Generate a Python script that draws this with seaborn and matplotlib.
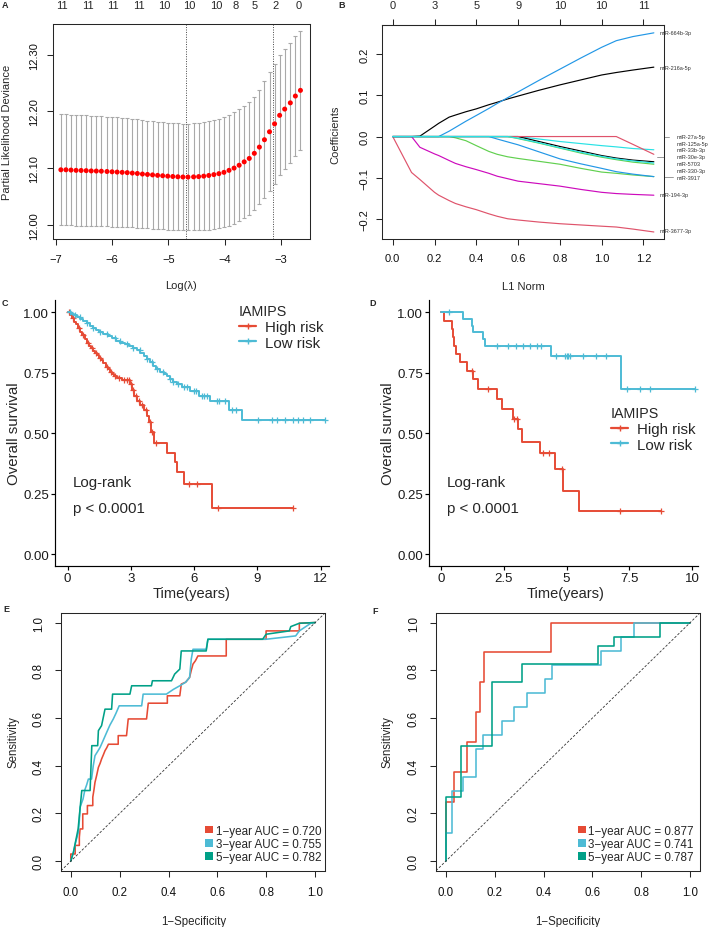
import numpy as np
import pandas as pd
import matplotlib
matplotlib.use("Agg")
import matplotlib.pyplot as plt
import matplotlib.transforms as mtrans
from matplotlib.lines import Line2D
from matplotlib.patches import Patch
import seaborn as sns

# ---------------------------------------------------------------- data
# A: LASSO cross-validation curve
a_log_lambda = [-6.91, -6.82, -6.73, -6.64, -6.55, -6.46, -6.37, -6.28, -6.19, -6.09,
                -6.00, -5.91, -5.82, -5.73, -5.64, -5.55, -5.46, -5.37, -5.28, -5.19,
                -5.10, -5.01, -4.92, -4.83, -4.74, -4.65, -4.55, -4.46, -4.37, -4.28,
                -4.19, -4.10, -4.01, -3.92, -3.83, -3.74, -3.65, -3.56, -3.47, -3.38,
                -3.29, -3.20, -3.11, -3.02, -2.93, -2.83, -2.74, -2.65]
a_deviance = [12.097, 12.097, 12.0965, 12.096, 12.0958, 12.0955, 12.095, 12.0948, 12.0945, 12.094,
              12.0935, 12.093, 12.0925, 12.092, 12.0912, 12.0905, 12.0895, 12.0888, 12.088, 12.0872,
              12.0865, 12.0858, 12.0852, 12.0847, 12.0843, 12.0842, 12.0845, 12.085, 12.0858, 12.087,
              12.0885, 12.0902, 12.0925, 12.096, 12.100, 12.105, 12.111, 12.117, 12.126, 12.137,
              12.150, 12.164, 12.178, 12.193, 12.204, 12.215, 12.227, 12.237]
a_sd = [0.0975, 0.0975, 0.0975, 0.0975, 0.0974, 0.0973, 0.0972, 0.0971, 0.097, 0.0968,
        0.0966, 0.0964, 0.0962, 0.096, 0.0958, 0.0955, 0.0953, 0.095, 0.0948, 0.0946,
        0.0944, 0.0942, 0.094, 0.094, 0.094, 0.094, 0.0942, 0.0945, 0.095, 0.0955,
        0.096, 0.0965, 0.097, 0.0975, 0.098, 0.0985, 0.099, 0.0995, 0.1, 0.101,
        0.103, 0.105, 0.106, 0.106, 0.106, 0.1055, 0.105, 0.105]
a_lambda_min = -4.68
a_lambda_1se = -3.13
a_top_pos = [-6.90, -6.43, -5.99, -5.53, -5.08, -4.62, -4.15, -3.80, -3.46, -3.09, -2.69]
a_top_lab = ["11", "11", "11", "11", "10", "10", "10", "8", "5", "2", "0"]

# B: coefficient paths against L1 norm
b_norm = [0, 0.09, 0.13, 0.2, 0.22, 0.27, 0.3, 0.35, 0.4, 0.46, 0.5, 0.55, 0.6, 0.7, 0.8, 0.9, 1.0, 1.07, 1.15, 1.25]
b_paths = [
    [0, 0, 0.001, 0.025, 0.032, 0.047, 0.052, 0.060, 0.067, 0.077, 0.083, 0.091, 0.098, 0.112, 0.125, 0.137, 0.149, 0.155, 0.161, 0.168],
    [0, -0.087, -0.104, -0.135, -0.142, -0.155, -0.162, -0.170, -0.177, -0.187, -0.193, -0.199, -0.202, -0.207, -0.211, -0.214, -0.217, -0.219, -0.224, -0.231],
    [0, 0, 0, 0, 0, 0, -0.003, -0.010, -0.022, -0.036, -0.043, -0.049, -0.053, -0.060, -0.067, -0.077, -0.086, -0.089, -0.093, -0.097],
    [0, 0, 0, 0, 0, 0.013, 0.022, 0.037, 0.051, 0.068, 0.080, 0.094, 0.108, 0.136, 0.163, 0.190, 0.216, 0.232, 0.242, 0.251],
    [0, 0, 0, 0, 0, 0, 0, 0, 0, 0, 0, 0, 0, -0.006, -0.012, -0.017, -0.022, -0.025, -0.029, -0.032],
    [0, 0, -0.026, -0.042, -0.046, -0.058, -0.065, -0.073, -0.080, -0.089, -0.096, -0.102, -0.108, -0.114, -0.120, -0.128, -0.135, -0.138, -0.140, -0.142],
    [0, 0, 0, 0, 0, 0, 0, 0, 0, 0, 0, 0, 0, -0.012, -0.024, -0.035, -0.046, -0.052, -0.057, -0.061],
    [0, 0, 0, 0, 0, 0, 0, 0, 0, 0, 0, 0, 0, 0, 0, 0, 0, 0, -0.019, -0.043],
    [0, 0, 0, 0, 0, 0, 0, 0, 0, 0, 0, 0, -0.005, -0.016, -0.028, -0.040, -0.050, -0.056, -0.062, -0.067],
    [0, 0, 0, 0, 0, 0, 0, 0, 0, 0, -0.006, -0.013, -0.020, -0.037, -0.054, -0.066, -0.077, -0.085, -0.091, -0.097],
    [0, 0, 0, 0, 0, 0, 0, 0, 0, 0, 0, 0, -0.004, -0.015, -0.027, -0.038, -0.048, -0.054, -0.059, -0.064],
]
b_top_lab = ["0", "3", "5", "9", "10", "10", "11"]
b_outer_labels = ["miR-664b-3p", "miR-216a-5p", "miR-194-3p", "miR-3677-3p"]
b_outer_y = [0.253, 0.168, -0.140, -0.2275]
b_cluster_labels = ["miR-27a-5p", "miR-125a-5p", "miR-33b-3p", "miR-30e-3p", "miR-5703", "miR-330-3p", "miR-3917"]
b_cluster_y = [0.0, -0.016, -0.0324, -0.049, -0.065, -0.081, -0.098]

# C: Kaplan-Meier, training cohort
c_high_time = [0.1, 0.2, 0.3, 0.4, 0.5, 0.6, 0.7, 0.8, 0.9, 1.0, 1.1, 1.2, 1.3, 1.4, 1.5, 1.6, 1.7, 1.8, 1.9, 2.0,
               2.1, 2.2, 2.35, 2.6, 2.95, 3.05, 3.15, 3.3, 3.45, 3.6, 3.75, 3.85, 3.95, 4.1, 4.7, 5.1, 5.18, 5.52, 6.83]
c_high_surv = [0.99, 0.975, 0.96, 0.95, 0.935, 0.92, 0.905, 0.89, 0.875, 0.862, 0.852, 0.842, 0.832, 0.822, 0.812,
               0.802, 0.79, 0.775, 0.765, 0.755, 0.745, 0.735, 0.73, 0.72, 0.705, 0.68, 0.655, 0.635, 0.615, 0.595,
               0.57, 0.545, 0.505, 0.459, 0.417, 0.379, 0.338, 0.288, 0.189]
c_high_cens = [0.05, 0.25, 0.55, 0.75, 0.95, 1.15, 1.35, 1.55, 1.85, 2.05, 2.25, 2.45, 2.65, 2.8, 2.9, 3.0, 3.1,
               3.25, 3.4, 3.55, 3.7, 3.9, 4.0, 4.2, 5.77, 6.15, 7.15, 10.67]
c_low_time = [0.15, 0.3, 0.45, 0.6, 0.75, 0.9, 1.05, 1.2, 1.35, 1.5, 1.7, 1.9, 2.1, 2.3, 2.5, 2.7, 2.9, 3.1, 3.3,
              3.45, 3.6, 3.75, 3.9, 4.05, 4.2, 4.4, 4.55, 4.7, 4.85, 5.0, 5.17, 5.4, 5.8, 6.25, 6.75, 7.65, 8.25]
c_low_surv = [0.995, 0.988, 0.98, 0.972, 0.963, 0.955, 0.945, 0.935, 0.925, 0.917, 0.91, 0.903, 0.895, 0.883,
              0.875, 0.867, 0.86, 0.853, 0.845, 0.833, 0.821, 0.807, 0.793, 0.78, 0.766, 0.755, 0.745, 0.735,
              0.724, 0.713, 0.703, 0.69, 0.676, 0.655, 0.634, 0.597, 0.553]
c_low_cens = [0.11, 0.35, 0.58, 0.9, 1.22, 1.53, 1.85, 2.25, 2.48, 2.8, 3.11, 3.43, 3.75, 3.98, 4.22, 4.54, 4.85,
              5.01, 5.25, 5.5, 5.64, 6.0, 6.1, 6.35, 6.47, 6.6, 7.07, 7.2, 7.45, 7.8, 8.0, 9.04, 9.68, 9.94,
              10.31, 10.7, 10.94, 11.18, 11.49, 12.2]

# D: Kaplan-Meier, validation cohort
d_high_time = [0.13, 0.42, 0.49, 0.53, 0.6, 0.76, 1.02, 1.26, 1.46, 2.21, 2.41, 2.88, 3.08, 3.21, 3.94, 4.54, 4.87, 5.5]
d_high_surv = [0.966, 0.931, 0.897, 0.862, 0.828, 0.793, 0.759, 0.724, 0.683, 0.641, 0.6, 0.559, 0.517, 0.465,
               0.418, 0.352, 0.262, 0.177]
d_high_cens = [1.24, 1.88, 2.92, 3.04, 4.07, 4.3, 4.83, 7.12, 8.78]
d_low_time = [0.86, 1.22, 1.27, 1.68, 1.75, 4.36, 7.15]
d_low_surv = [0.972, 0.944, 0.917, 0.889, 0.862, 0.821, 0.684]
d_low_cens = [0.33, 2.21, 2.68, 3.0, 3.28, 3.54, 3.81, 4.0, 4.58, 4.93, 5.0, 5.07, 5.13, 5.66, 6.17, 6.56,
              7.39, 7.92, 8.32, 10.1]

km_groups = ["High risk", "Low risk"]

# E: time-dependent ROC, training cohort
e_fpr_1 = [0, 0, 0.018, 0.018, 0.035, 0.035, 0.038, 0.049, 0.049, 0.068, 0.068, 0.09, 0.09, 0.095, 0.099, 0.106,
           0.113, 0.12, 0.126, 0.133, 0.14, 0.147, 0.154, 0.194, 0.194, 0.228, 0.235, 0.31, 0.317, 0.395, 0.395,
           0.446, 0.452, 0.47, 0.486, 0.493, 0.5, 0.51, 0.52, 0.636, 0.636, 0.799, 0.799, 0.935, 0.935, 1.0]
e_tpr_1 = [0, 0.03, 0.03, 0.066, 0.066, 0.10, 0.135, 0.135, 0.198, 0.198, 0.233, 0.233, 0.268, 0.3, 0.33, 0.36,
           0.393, 0.41, 0.428, 0.445, 0.463, 0.475, 0.49, 0.49, 0.526, 0.526, 0.596, 0.596, 0.662, 0.662, 0.693,
           0.693, 0.742, 0.75, 0.77, 0.8, 0.826, 0.84, 0.86, 0.86, 0.93, 0.93, 0.965, 0.965, 0.997, 1.0]
e_fpr_3 = [0, 0.011, 0.02, 0.031, 0.035, 0.038, 0.05, 0.058, 0.065, 0.072, 0.085, 0.092, 0.099, 0.11, 0.12, 0.13,
           0.147, 0.16, 0.174, 0.185, 0.198, 0.29, 0.296, 0.391, 0.42, 0.446, 0.47, 0.486, 0.493, 0.5, 0.554,
           0.561, 0.799, 0.92, 0.935, 0.982, 1.0]
e_tpr_3 = [0, 0.038, 0.08, 0.12, 0.17, 0.226, 0.26, 0.3, 0.32, 0.344, 0.344, 0.4, 0.442, 0.46, 0.477, 0.5, 0.54,
           0.57, 0.596, 0.62, 0.651, 0.651, 0.7, 0.7, 0.72, 0.735, 0.75, 0.77, 0.847, 0.888, 0.888, 0.93, 0.93,
           0.944, 0.965, 0.997, 1.0]
e_fpr_5 = [0, 0.011, 0.03, 0.045, 0.079, 0.086, 0.11, 0.113, 0.126, 0.14, 0.167, 0.171, 0.242, 0.249, 0.33, 0.334,
           0.412, 0.425, 0.446, 0.452, 0.554, 0.561, 0.785, 0.799, 0.894, 0.9, 0.935, 1.0]
e_tpr_5 = [0, 0.038, 0.135, 0.296, 0.296, 0.484, 0.484, 0.547, 0.568, 0.637, 0.637, 0.7, 0.7, 0.735, 0.735, 0.756,
           0.756, 0.784, 0.805, 0.881, 0.881, 0.93, 0.93, 0.951, 0.965, 0.983, 0.997, 1.0]
e_auc_labels = ["1\u2212year AUC = 0.720", "3\u2212year AUC = 0.755", "5\u2212year AUC = 0.782"]

# F: time-dependent ROC, validation cohort
f_fpr_1 = [0, 0, 0.035, 0.035, 0.086, 0.086, 0.124, 0.124, 0.14, 0.14, 0.158, 0.158, 0.429, 0.429, 1.0]
f_tpr_1 = [0, 0.25, 0.25, 0.375, 0.375, 0.5, 0.5, 0.625, 0.625, 0.75, 0.75, 0.875, 0.875, 1.0, 1.0]
f_fpr_3 = [0, 0, 0.024, 0.024, 0.072, 0.072, 0.124, 0.124, 0.151, 0.151, 0.229, 0.229, 0.28, 0.28, 0.331, 0.331,
           0.405, 0.405, 0.435, 0.435, 0.633, 0.633, 0.718, 0.718, 0.769, 0.769, 1.0]
f_tpr_3 = [0, 0.118, 0.118, 0.294, 0.294, 0.353, 0.353, 0.471, 0.471, 0.529, 0.529, 0.588, 0.588, 0.647, 0.647,
           0.706, 0.706, 0.765, 0.765, 0.824, 0.824, 0.882, 0.882, 0.941, 0.941, 1.0, 1.0]
f_fpr_5 = [0, 0, 0.061, 0.061, 0.188, 0.188, 0.31, 0.31, 0.623, 0.623, 0.687, 0.687, 0.875, 0.875, 1.0]
f_tpr_5 = [0, 0.268, 0.268, 0.484, 0.484, 0.749, 0.749, 0.826, 0.826, 0.902, 0.902, 0.94, 0.94, 1.0, 1.0]
f_auc_labels = ["1\u2212year AUC = 0.877", "3\u2212year AUC = 0.741", "5\u2212year AUC = 0.787"]

# ---------------------------------------------------------------- style
sns.set_style("ticks")
plt.rcParams["font.family"] = ["Liberation Sans", "DejaVu Sans"]
plt.rcParams["axes.unicode_minus"] = True

R_PAL = ["#000000", "#DF536B", "#61D04F", "#2297E6", "#28E2E5", "#CD0BBC"]
KM_COL = ["#E64B35", "#4DBBD5"]
ROC_COL = ["#E64B35", "#4DBBD5", "#00A087"]
FRAME = "#262626"

W, H = 709, 928
fig = plt.figure(figsize=(W / 100, H / 100), dpi=100)
fig.patch.set_facecolor("white")


def add_ax(x0, y0, x1, y1):
    return fig.add_axes([x0 / W, 1 - y1 / H, (x1 - x0) / W, (y1 - y0) / H])


def fx(x):
    return x / W


def fy(y):
    return 1 - y / H


def place_xlabel(ax, s, x, y, fs):
    ax.set_xlabel(s, fontsize=fs, va="center", ha="center")
    ax.xaxis.set_label_coords(fx(x), fy(y), transform=fig.transFigure)


def place_ylabel(ax, s, x, y, fs):
    ax.set_ylabel(s, fontsize=fs, va="center", ha="center", rotation=90)
    ax.yaxis.set_label_coords(fx(x), fy(y), transform=fig.transFigure)


def r_axes(ax, xt, xl, yt, yl, fs=8, xpad=6, ypad=5.3):
    ax.set_xticks(xt)
    ax.set_xticklabels(xl)
    ax.set_yticks(yt)
    ax.set_yticklabels(yl, rotation=90, va="center")
    for s in ax.spines.values():
        s.set_visible(True)
        s.set_linewidth(0.75)
        s.set_color(FRAME)
    ax.tick_params(axis="both", direction="out", length=4.3, width=0.75, color=FRAME,
                   labelsize=fs, labelcolor="#111111")
    ax.tick_params(axis="x", pad=xpad)
    ax.tick_params(axis="y", pad=ypad)
    ax.grid(False)


def panel_letter(x, y, s):
    fig.text(fx(x), fy(y), s, fontsize=6.5, fontweight="bold", ha="left", va="center")


# ---------------------------------------------------------------- A
axA = add_ax(53, 25, 310, 240)
dfA = pd.DataFrame({"loglam": a_log_lambda, "dev": a_deviance, "sd": a_sd})
axA.errorbar(dfA["loglam"], dfA["dev"], yerr=dfA["sd"], fmt="none", ecolor="#A9A9A9",
             elinewidth=0.8, capsize=1.7, capthick=0.8, zorder=1)
sns.scatterplot(data=dfA, x="loglam", y="dev", color="red", s=13, edgecolor="none", ax=axA, zorder=3)
axA.axvline(a_lambda_min, ls=(0, (1, 1.5)), color="#444444", lw=0.7)
axA.axvline(a_lambda_1se, ls=(0, (1, 1.5)), color="#444444", lw=0.7)
axA.set_xlim(-7.05, -2.48)
axA.set_ylim(11.975, 12.354)
r_axes(axA, [-7, -6, -5, -4, -3], ["\u22127", "\u22126", "\u22125", "\u22124", "\u22123"],
       [12.0, 12.1, 12.2, 12.3], ["12.00", "12.10", "12.20", "12.30"], fs=8, xpad=6.5, ypad=5.5)
place_xlabel(axA, "Log(\u03bb)", 181.5, 286, 8)
place_ylabel(axA, "Partial Likelihood Deviance", 7, 132.5, 8)
trA = mtrans.blended_transform_factory(axA.transData, fig.transFigure)
for p, lab in zip(a_top_pos, a_top_lab):
    axA.text(p, fy(6), lab, transform=trA, ha="center", va="center", fontsize=8, clip_on=False)

# ---------------------------------------------------------------- B
axB = add_ax(382.3, 26, 664.3, 240)
for i, path in enumerate(b_paths):
    sns.lineplot(x=b_norm, y=path, color=R_PAL[i % 6], lw=0.85, ax=axB,
                 estimator=None, sort=False, legend=False)
axB.set_xlim(-0.05, 1.30)
axB.set_ylim(-0.248, 0.270)
r_axes(axB, [0, 0.2, 0.4, 0.6, 0.8, 1.0, 1.2], ["0.0", "0.2", "0.4", "0.6", "0.8", "1.0", "1.2"],
       [-0.2, -0.1, 0.0, 0.1, 0.2], ["\u22120.2", "\u22120.1", "0.0", "0.1", "0.2"], fs=8, xpad=6, ypad=5)
secB = axB.secondary_xaxis("top")
secB.set_xticks([0, 0.2, 0.4, 0.6, 0.8, 1.0, 1.2], labels=b_top_lab)
secB.tick_params(direction="out", length=4.3, width=0.75, color=FRAME, labelsize=8, pad=6.3)
secB.spines["top"].set_color(FRAME)
secB.spines["top"].set_linewidth(0.75)
place_xlabel(axB, "L1 Norm", 523.3, 286.7, 8)
place_ylabel(axB, "Coefficients", 335, 134.5, 8)
for lab, yv in zip(b_outer_labels, b_outer_y):
    axB.text(1.276, yv, lab, fontsize=4, color="#333333", ha="left", va="center", clip_on=False)
for lab, yv in zip(b_cluster_labels, b_cluster_y):
    axB.text(1.357, yv, lab, fontsize=4, color="#333333", ha="left", va="center", clip_on=False)
br_top, br_bot, br_mid = b_cluster_y[0], b_cluster_y[-1], b_cluster_y[3]
bx = 1.3005
axB.plot([bx + 0.024, bx, bx, bx + 0.043], [br_top, br_top, br_bot, br_bot], color="#888888", lw=0.6,
         clip_on=False)
axB.plot([bx - 0.037, bx], [br_mid, br_mid], color="#888888", lw=0.6, clip_on=False)


# ---------------------------------------------------------------- KM helpers
def km_steps(times, surv, tmax):
    xs = [0.0] + list(times) + [tmax]
    ys = [1.0] + list(surv) + [surv[-1]]
    return xs, ys


def surv_at(times, surv, t):
    t = np.asarray(t, dtype=float)
    idx = np.searchsorted(np.asarray(times), t, side="right") - 1
    s = np.asarray(surv)[np.clip(idx, 0, None)]
    return np.where(idx >= 0, s, 1.0)


def km_panel(ax, groups, xlim, xt, xtl):
    for (times, surv, cens), col in zip(groups, KM_COL):
        tmax = max(max(cens), max(times))
        xs, ys = km_steps(times, surv, tmax)
        sns.lineplot(x=xs, y=ys, color=col, lw=1.4, ax=ax, estimator=None, sort=False,
                     drawstyle="steps-post", legend=False)
        ax.plot(cens, surv_at(times, surv, cens), ls="none", marker="+", ms=4.5, mew=0.9, color=col)
    ax.set_xlim(*xlim)
    ax.set_ylim(-0.048, 1.051)
    ax.set_xticks(xt)
    ax.set_xticklabels(xtl)
    ax.set_yticks([0, 0.25, 0.5, 0.75, 1.0])
    ax.set_yticklabels(["0.00", "0.25", "0.50", "0.75", "1.00"])
    sns.despine(ax=ax)
    for s in ["left", "bottom"]:
        ax.spines[s].set_linewidth(0.85)
        ax.spines[s].set_color("black")
    ax.tick_params(axis="both", direction="out", length=2.75, width=0.85, color="black",
                   labelsize=9.5, labelcolor="#1a1a1a", pad=1.6)
    ax.grid(False)


def km_legend(ax, x, y):
    handles = [Line2D([], [], color=c, lw=1.6, marker="+", ms=5, mew=1.0) for c in KM_COL]
    ax.legend(handles, km_groups, title="IAMIPS", loc="upper left",
              bbox_to_anchor=(fx(x), fy(y)), bbox_transform=fig.transFigure, frameon=False,
              fontsize=10.8, title_fontsize=10.3, handlelength=1.15, handletextpad=0.6,
              labelspacing=0.12, borderpad=0, borderaxespad=0, alignment="left")


# ---------------------------------------------------------------- C
axC = add_ax(55, 301, 329.3, 566.7)
km_panel(axC, [(c_high_time, c_high_surv, c_high_cens), (c_low_time, c_low_surv, c_low_cens)],
         (-0.6, 12.41), [0, 3, 6, 9, 12], ["0", "3", "6", "9", "12"])
km_legend(axC, 239, 305)
place_xlabel(axC, "Time(years)", 192, 594, 10.5)
place_ylabel(axC, "Overall survival", 13.5, 433.3, 10.8)
fig.text(fx(73), fy(483.5), "Log-rank", fontsize=10.8, ha="left", va="center")
fig.text(fx(73), fy(508.5), "p < 0.0001", fontsize=10.8, ha="left", va="center")

# ---------------------------------------------------------------- D
axD = add_ax(429.3, 301, 698.3, 566.7)
km_panel(axD, [(d_high_time, d_high_surv, d_high_cens), (d_low_time, d_low_surv, d_low_cens)],
         (-0.47, 10.25), [0, 2.5, 5, 7.5, 10], ["0", "2.5", "5", "7.5", "10"])
km_legend(axD, 611, 407)
place_xlabel(axD, "Time(years)", 566, 594, 10.5)
place_ylabel(axD, "Overall survival", 388.3, 433.3, 10.8)
fig.text(fx(446.7), fy(483.5), "Log-rank", fontsize=10.8, ha="left", va="center")
fig.text(fx(446.7), fy(508.5), "p < 0.0001", fontsize=10.8, ha="left", va="center")


# ---------------------------------------------------------------- ROC helpers
def roc_panel(ax, curves, labels, leg_right, leg_bottom):
    for (fpr, tpr), col in zip(curves, ROC_COL):
        sns.lineplot(x=fpr, y=tpr, color=col, lw=1.15, ax=ax, estimator=None, sort=False, legend=False)
    ax.axline((0, 0), (1, 1), color="#333333", lw=0.6, ls=(0, (3, 2)))
    ax.set_xlim(-0.04, 1.04)
    ax.set_ylim(-0.04, 1.04)
    ticks = [0, 0.2, 0.4, 0.6, 0.8, 1.0]
    tl = ["0.0", "0.2", "0.4", "0.6", "0.8", "1.0"]
    r_axes(ax, ticks, tl, ticks, tl, fs=8.3, xpad=6.8, ypad=7.3)
    handles = [Patch(facecolor=c, edgecolor="none") for c in ROC_COL]
    ax.legend(handles, labels, loc="lower right", bbox_to_anchor=(fx(leg_right), fy(leg_bottom)),
              bbox_transform=fig.transFigure, frameon=False, fontsize=8.4, handlelength=0.65,
              handleheight=0.65, handletextpad=0.25, labelspacing=0.1, borderpad=0, borderaxespad=0)


# ---------------------------------------------------------------- E
axE = add_ax(61, 614, 325, 871.7)
roc_panel(axE, [(e_fpr_1, e_tpr_1), (e_fpr_3, e_tpr_3), (e_fpr_5, e_tpr_5)], e_auc_labels, 321, 864)
place_xlabel(axE, "1\u2212Specificity", 193.5, 921.7, 8.3)
place_ylabel(axE, "Sensitivity", 13.3, 742.5, 8.3)

# ---------------------------------------------------------------- F
axF = add_ax(436, 614, 700, 871.7)
roc_panel(axF, [(f_fpr_1, f_tpr_1), (f_fpr_3, f_tpr_3), (f_fpr_5, f_tpr_5)], f_auc_labels, 694, 864)
place_xlabel(axF, "1\u2212Specificity", 568, 921.7, 8.3)
place_ylabel(axF, "Sensitivity", 387.7, 742.5, 8.3)

# ---------------------------------------------------------------- panel letters
panel_letter(1.5, 5, "A")
panel_letter(338, 5, "B")
panel_letter(1.5, 303, "C")
panel_letter(369, 303.5, "D")
panel_letter(3, 610, "E")
panel_letter(372, 611.5, "F")

fig.savefig("out.png", dpi=100)
